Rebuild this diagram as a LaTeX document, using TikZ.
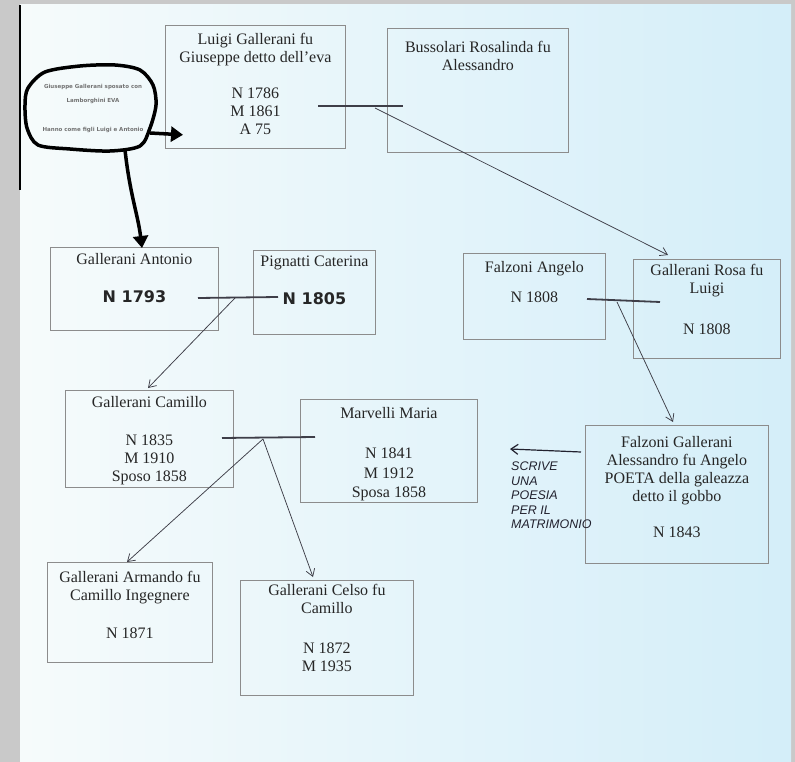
\documentclass[tikz,border=0pt]{standalone}
\usepackage{fontspec}
\setmainfont{Liberation Serif}
\newfontfamily\boldsans{DejaVu Sans}
\newfontfamily\manoscritto{Liberation Sans}
\newfontfamily\piccolo{DejaVu Sans}
\usepackage{tikz}
\usetikzlibrary{arrows.meta,calc}
\usepackage{xcolor}
\definecolor{PaperWhite}{HTML}{f6fbfb}
\definecolor{PaperCyan}{HTML}{d4eef9}
\definecolor{BorderGray}{HTML}{c9c9c9}
\definecolor{BoxGray}{HTML}{8c8c8c}
\definecolor{PenGray}{HTML}{3e3e48}
\definecolor{InkBlue}{HTML}{22222f}

\begin{document}
\begin{tikzpicture}[x=1pt,y=-1pt,
    scheda/.style={draw=BoxGray,line width=0.8pt,anchor=north west,inner sep=0pt},
    testo/.style={anchor=north,align=center,inner sep=0pt,yshift=-8pt,text=black!85,
      font=\fontsize{16}{18}\selectfont},
    nozze/.style={PenGray,line width=1.8pt},
    figlio/.style={PenGray,line width=0.75pt,-{Straight Barb[length=7pt,width=9pt]}},
    grosso/.style={black,line width=3.5pt,-{Triangle[length=12pt,width=15pt]}}]
    \useasboundingbox (0,0) rectangle (795,762);
    \fill[BorderGray] (0,0) rectangle (795,762);
    \shade[left color=PaperWhite,right color=PaperCyan] (20,5) rectangle (791,762);
    \draw[black,line width=2pt] (20,5) -- (20,190);
    % cloud note
    \draw[black,line width=3.5pt] plot[smooth cycle] coordinates {(28,88) (45,72) (80,66) (115,65)
      (140,70) (153,85) (156,105) (150,128) (140,146) (110,151) (70,149) (38,145) (27,128) (25,105)};
    \node[font=\piccolo\bfseries\fontsize{5.5}{14}\selectfont,text=black!55,align=center] (nuvola)
      at (93,109) {Giuseppe Gallerani sposato con\\Lamborghini EVA\\[15pt]Hanno come figli Luigi e Antonio};
    \coordinate (nuvEst) at (150,133);
    \coordinate (nuvSud) at (125,150);
    % people
    \node[scheda,minimum width=180pt,minimum height=123pt,
      label={[testo]north:{Luigi Gallerani fu\\Giuseppe detto dell’eva\\[18pt]N 1786\\M 1861\\A 75}}]
      (luigi) at (165,25) {};
    \node[scheda,minimum width=181pt,minimum height=124pt,
      label={[testo,yshift=-5pt]north:{Bussolari Rosalinda fu\\Alessandro}}]
      (bussolari) at (387,28) {};
    \node[scheda,minimum width=168pt,minimum height=83pt,
      label={[testo,yshift=2pt]north:{Gallerani Antonio\\[20pt]{\boldsans\bfseries N 1793}}}]
      (antonio) at (50,247) {};
    \node[scheda,minimum width=122pt,minimum height=84pt,
      label={[testo,yshift=2pt]north:{Pignatti Caterina\\[20pt]{\boldsans\bfseries N 1805}}}]
      (pignatti) at (253,250) {};
    \node[scheda,minimum width=142pt,minimum height=86pt,
      label={[testo]north:{Falzoni Angelo\\[12pt]N 1808}}]
      (falzoni) at (463,253) {};
    \node[scheda,minimum width=147pt,minimum height=99pt,
      label={[testo,yshift=3pt]north:{Gallerani Rosa fu\\Luigi\\[23pt]N 1808}}]
      (rosa) at (633,259) {};
    \node[scheda,minimum width=168pt,minimum height=97pt,
      label={[testo,yshift=2pt]north:{Gallerani Camillo\\[20pt]N 1835\\M 1910\\Sposo 1858}}]
      (camillo) at (65,390) {};
    \node[scheda,minimum width=177pt,minimum height=103pt,
      label={[testo]north:{Marvelli Maria\\[22pt]N 1841\\[2pt]M 1912\\[1pt]Sposa 1858}}]
      (maria) at (300,399) {};
    \node[scheda,minimum width=183pt,minimum height=138pt,
      label={[testo,yshift=-3pt]north:{Falzoni Gallerani\\Alessandro fu Angelo\\POETA della galeazza\\detto il gobbo\\[18pt]N 1843}}]
      (alessandro) at (585,425) {};
    \node[scheda,minimum width=165pt,minimum height=100pt,
      label={[testo,yshift=-1pt]north:{Gallerani Armando fu\\Camillo Ingegnere\\[20pt]N 1871}}]
      (armando) at (47,562) {};
    \node[scheda,minimum width=173pt,minimum height=115pt,
      label={[testo,yshift=4pt]north:{Gallerani Celso fu\\Camillo\\[22pt]N 1872\\M 1935}}]
      (celso) at (240,580) {};
    % marriages
    \coordinate (n1a) at (318,106); \coordinate (n1b) at (403,106); \coordinate (n1) at (375,108);
    \coordinate (n2a) at (198,298); \coordinate (n2b) at (278,297); \coordinate (n2) at (235,298);
    \coordinate (n3a) at (587,299); \coordinate (n3b) at (660,302); \coordinate (n3) at (617,302);
    \coordinate (n4a) at (222,438); \coordinate (n4b) at (315,437); \coordinate (n4) at (263,439);
    \foreach \a/\b in {n1a/n1b,n2a/n2b,n3a/n3b,n4a/n4b} {
      \draw[nozze] (\a) -- (\b);
    }
    \draw[figlio] (n1) -- ($(rosa.north west)+(35,-4)$);
    \draw[figlio] (n2) -- ($(camillo.north west)+(83,-2)$);
    \draw[figlio] (n3) -- ($(alessandro.north west)+(88,-3)$);
    \draw[figlio] (n4) -- ($(armando.north west)+(80,0)$);
    \draw[figlio] (n4) -- ($(celso.north west)+(73,-3)$);
    % cloud arrows
    \draw[grosso] (nuvEst) -- ($(luigi.south west)+(18,-14)$);
    \draw[grosso] (nuvSud) .. controls (130,195) and (138,215) .. ($(antonio.north west)+(92,1)$);
    % handwritten note
    \coordinate (poesia) at (510,449);
    \draw[InkBlue,line width=1.2pt,-{Straight Barb[length=7pt,width=10pt]}]
      ($(alessandro.north west)+(-4,27)$) -- (poesia);
    \node[font=\manoscritto\itshape\fontsize{12.5}{14.5}\selectfont,text=InkBlue,align=left,
      anchor=north west,inner sep=0pt] (poesiaTesto) at (511,462) {SCRIVE\\UNA\\POESIA\\PER IL\\MATRIMONIO};
\end{tikzpicture}
\end{document}
